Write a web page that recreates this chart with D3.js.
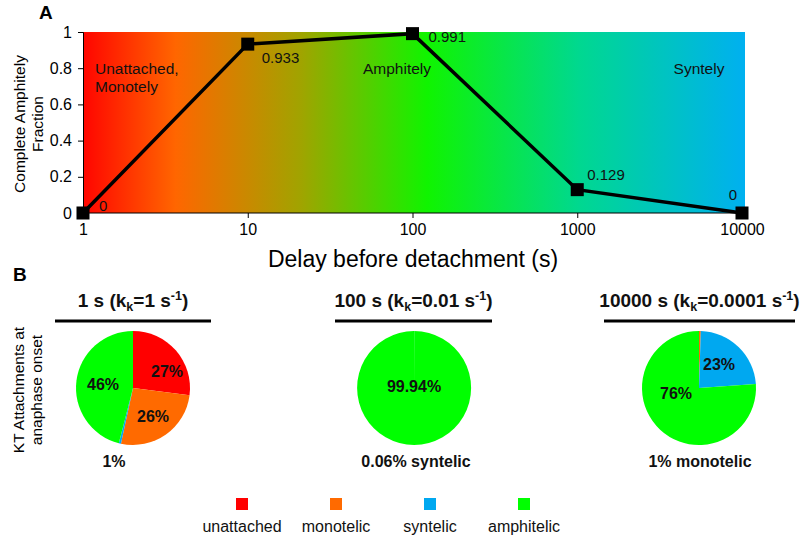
<!DOCTYPE html>
<html><head><meta charset="utf-8">
<script src="https://cdn.jsdelivr.net/npm/d3@7"></script>
<style>body{margin:0;background:#fff}svg{font-family:"Liberation Sans",Arial,sans-serif}</style>
</head><body><svg id="c" width="800" height="536"></svg>
<script>
// ---- Data ----
const delays = [1, 10, 100, 1000, 10000];
const amphitelyFraction = [0, 0.933, 0.991, 0.129, 0];
const pointLabels = ["0", "0.933", "0.991", "0.129", "0"];
const xTicks = [1, 10, 100, 1000, 10000];
const yTicks = [0, 0.2, 0.4, 0.6, 0.8, 1];
const regionLabels = [["Unattached,", "Monotely"], ["Amphitely"], ["Syntely"]];
const categories = ["unattached", "monotelic", "syntelic", "amphitelic"];
const catColors = ["#ff0000", "#ff6a00", "#00a8f0", "#00ff00"];
const pie1s = [27, 26.4, 0.6, 46];
const pie100s = [0, 0, 0.06, 99.94];
const pie10000s = [0, 0.5, 23.4, 76.1];

const svg = d3.select("#c");
const FF = "Liberation Sans, Arial, sans-serif";

// ---- Panel A ----
const x = d3.scaleLog().domain([1, 10000]).range([83, 742]);
const y = d3.scaleLinear().domain([0, 1]).range([213, 32]);

const defs = svg.append("defs");
const grad = defs.append("linearGradient").attr("id", "bg").attr("x1", "0").attr("x2", "1").attr("y1", "0").attr("y2", "0");
[[0, "#ff0500"], [0.14, "#ff6600"], [0.33, "#a0a400"], [0.52, "#10f400"], [0.75, "#00d890"], [1, "#00b0f0"]]
  .forEach(([o, c]) => grad.append("stop").attr("offset", o).attr("stop-color", c));

svg.append("rect").attr("x", x(1)).attr("y", y(1)).attr("width", 745 - x(1)).attr("height", y(0) - y(1)).attr("fill", "url(#bg)");

const yAxis = svg.append("g").attr("transform", `translate(${x(1)},0)`)
  .call(d3.axisLeft(y).tickValues(yTicks).tickFormat(d3.format("")).tickSize(5).tickPadding(6));
const xAxis = svg.append("g").attr("transform", `translate(0,${y(0)})`)
  .call(d3.axisBottom(x).tickValues(xTicks).tickFormat(d3.format("")).tickSize(5).tickPadding(6));
[yAxis, xAxis].forEach(g => {
  g.selectAll("text").attr("font-size", 16).attr("fill", "#000").attr("font-family", FF);
  g.selectAll("line,path").attr("stroke", "#000");
});
xAxis.select("path").attr("d", `M${x(1)},0H745`);

const pts = delays.map((d, i) => [x(d), y(amphitelyFraction[i])]);
svg.append("path").attr("d", d3.line()(pts)).attr("fill", "none").attr("stroke", "#000").attr("stroke-width", 3.5);
svg.selectAll(".mk").data(pts).join("rect").attr("x", d => d[0] - 6.5).attr("y", d => d[1] - 6.5)
  .attr("width", 13).attr("height", 13).attr("fill", "#000");

const lblOff = [[16, -2], [14, 19], [16, 8], [10, -10], [-9, -13]];
svg.selectAll(".pl").data(pts).join("text").attr("x", (d, i) => d[0] + lblOff[i][0]).attr("y", (d, i) => d[1] + lblOff[i][1])
  .attr("text-anchor", (d, i) => i === 4 ? "middle" : "start").attr("font-size", 15).attr("fill", "#111").text((d, i) => pointLabels[i]);

// region labels
const rl = svg.append("g").attr("font-size", 15.5).attr("fill", "#111");
rl.append("text").attr("x", 95).attr("y", 74).text(regionLabels[0][0]);
rl.append("text").attr("x", 95).attr("y", 92).text(regionLabels[0][1]);
rl.append("text").attr("x", 397).attr("y", 74).attr("text-anchor", "middle").text(regionLabels[1][0]);
rl.append("text").attr("x", 699).attr("y", 74).attr("text-anchor", "middle").text(regionLabels[2][0]);

svg.append("text").attr("transform", "translate(25,124) rotate(-90)").attr("text-anchor", "middle").attr("font-size", 15.5).text("Complete Amphitely");
svg.append("text").attr("transform", "translate(43,124) rotate(-90)").attr("text-anchor", "middle").attr("font-size", 15.5).text("Fraction");
svg.append("text").attr("x", 413).attr("y", 267).attr("text-anchor", "middle").attr("font-size", 23).text("Delay before detachment (s)");

svg.append("text").attr("x", 39).attr("y", 19).attr("font-size", 19).attr("font-weight", "bold").text("A");
svg.append("text").attr("x", 13).attr("y", 281).attr("font-size", 19).attr("font-weight", "bold").text("B");

// ---- Panel B ----
svg.append("text").attr("transform", "translate(24,390) rotate(-90)").attr("text-anchor", "middle").attr("font-size", 15.5).text("KT Attachments at");
svg.append("text").attr("transform", "translate(42,390) rotate(-90)").attr("text-anchor", "middle").attr("font-size", 15.5).text("anaphase onset");

const pies = [
  {cx: 133, vals: pie1s, title: ["1 s (k", "k", "=1 s", "-1", ")"], lx1: 55, lx2: 211,
   labels: [[1, "27%", 34, -11], [0, "26%", 20, 34], [3, "46%", -30, 2]], below: "1%", bx: 114},
  {cx: 414, vals: pie100s, title: ["100 s (k", "k", "=0.01 s", "-1", ")"], lx1: 335, lx2: 492,
   labels: [[3, "99.94%", 0, 4]], below: "0.06% syntelic", bx: 416},
  {cx: 699, vals: pie10000s, title: ["10000 s (k", "k", "=0.0001 s", "-1", ")"], lx1: 604, lx2: 795,
   labels: [[2, "23%", 20, -18], [3, "76%", -23, 11]], below: "1% monotelic", bx: 700}
];
const cy = 388, R = 57;
const pieGen = d3.pie().sort(null).value(d => d);
const arc = d3.arc().innerRadius(0).outerRadius(R);
pies.forEach(p => {
  const t = svg.append("text").attr("x", (p.lx1 + p.lx2) / 2).attr("y", 307).attr("text-anchor", "middle")
    .attr("font-size", 19).attr("font-weight", "bold").attr("fill", "#111");
  t.append("tspan").text(p.title[0]);
  t.append("tspan").attr("font-size", 12.5).attr("dy", 4).text(p.title[1]);
  t.append("tspan").attr("dy", -4).text(p.title[2]);
  t.append("tspan").attr("font-size", 12.5).attr("dy", -7).text(p.title[3]);
  t.append("tspan").attr("dy", 7).text(p.title[4]);
  svg.append("line").attr("x1", p.lx1).attr("x2", p.lx2).attr("y1", 321).attr("y2", 321).attr("stroke", "#000").attr("stroke-width", 3);
  const g = svg.append("g").attr("transform", `translate(${p.cx},${cy})`);
  g.selectAll("path").data(pieGen(p.vals)).join("path").attr("d", arc).attr("fill", (d, i) => catColors[i]);
  p.labels.forEach(l => {
    g.append("text").attr("x", l[2]).attr("y", l[3]).attr("text-anchor", "middle").attr("font-size", 16)
      .attr("font-weight", "bold").attr("fill", "#111").text(l[1]);
  });
  svg.append("text").attr("x", p.bx).attr("y", 467).attr("text-anchor", "middle").attr("font-size", 16)
    .attr("font-weight", "bold").attr("fill", "#111").text(p.below);
});

// legend
const lx = d3.scalePoint().domain(categories).range([242, 524]);
const lg = svg.selectAll(".lg").data(categories).join("g").attr("transform", d => `translate(${lx(d)},0)`);
lg.append("rect").attr("x", -6).attr("y", 498).attr("width", 12).attr("height", 12).attr("fill", (d, i) => catColors[i]);
lg.append("text").attr("y", 532).attr("text-anchor", "middle").attr("font-size", 16).attr("fill", "#111").text(d => d);
</script></body></html>
